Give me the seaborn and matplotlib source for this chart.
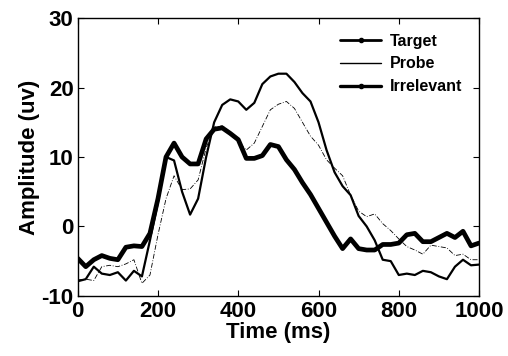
import numpy as np
import pandas as pd
import seaborn as sns
import matplotlib
matplotlib.use('Agg')
import matplotlib.pyplot as plt
from matplotlib.lines import Line2D

# время, мс (шаг 20 мс)
time_ms = list(range(0, 1001, 20))

target = [-7.9, -7.6, -5.8, -6.8, -7.0, -6.6, -7.8, -6.4, -7.2, -2.0,
          3.5, 10.0, 9.5, 5.0, 1.7, 4.0, 10.0, 15.0, 17.5, 18.3,
          18.0, 16.8, 17.8, 20.5, 21.6, 22.0, 22.0, 20.8, 19.2, 18.0,
          15.0, 11.0, 7.8, 5.8, 4.5, 1.5, 0.0, -2.0, -4.8, -5.0,
          -7.0, -6.8, -7.0, -6.4, -6.6, -7.2, -7.6, -5.8, -4.8, -5.6, -5.5]

probe = [-7.7, -7.6, -7.8, -5.8, -5.6, -5.8, -5.4, -4.8, -8.2, -7.0,
         -1.2, 4.0, 7.3, 5.3, 5.4, 6.7, 11.3, 14.3, 14.5, 13.6,
         12.2, 11.0, 12.0, 14.4, 16.8, 17.6, 18.0, 17.0, 15.0, 13.0,
         11.7, 9.6, 8.4, 7.3, 4.5, 2.2, 1.4, 1.8, 0.4, -0.6,
         -1.8, -2.9, -3.4, -4.0, -2.7, -2.9, -3.1, -4.2, -4.0, -4.8, -4.8]

irrelevant = [-4.6, -5.8, -4.8, -4.2, -4.6, -4.8, -3.0, -2.8, -2.9, -1.0,
              4.0, 10.0, 12.0, 10.0, 9.0, 9.0, 12.6, 14.0, 14.2, 13.4,
              12.5, 9.8, 9.8, 10.2, 11.8, 11.5, 9.6, 8.2, 6.3, 4.6,
              2.6, 0.6, -1.4, -3.2, -1.8, -3.2, -3.4, -3.4, -2.6, -2.6,
              -2.4, -1.2, -1.0, -2.2, -2.2, -1.6, -1.0, -1.6, -0.7, -2.8, -2.4]

df = pd.DataFrame({'time': time_ms, 'Target': target,
                   'Probe': probe, 'Irrelevant': irrelevant})

sns.set_style('ticks')
plt.rcParams['font.family'] = ['Liberation Sans', 'DejaVu Sans']
plt.rcParams['font.weight'] = 'bold'
plt.rcParams['text.color'] = 'black'
plt.rcParams['axes.labelcolor'] = 'black'
plt.rcParams['xtick.color'] = 'black'
plt.rcParams['ytick.color'] = 'black'
plt.rcParams['axes.unicode_minus'] = False

fig = plt.figure(figsize=(5.08, 3.56), dpi=100)
ax = fig.add_axes([0.153, 0.169, 0.790, 0.780])

sns.lineplot(data=df, x='time', y='Probe', ax=ax, color='black',
             linewidth=0.6, dashes=False, linestyle=(0, (6, 2, 1, 2)))
sns.lineplot(data=df, x='time', y='Target', ax=ax, color='black', linewidth=1.6)
sns.lineplot(data=df, x='time', y='Irrelevant', ax=ax, color='black', linewidth=3.4)

ax.set_xlim(0, 1000)
ax.set_ylim(-10, 30)
ax.set_xticks([0, 200, 400, 600, 800, 1000])
ax.set_yticks([-10, 0, 10, 20, 30])
ax.tick_params(direction='in', length=4, width=0.8, top=True, right=True,
               labelsize=16, colors='black')
ax.tick_params(axis='x', pad=4)
ax.tick_params(axis='y', pad=3)
for lbl in ax.get_xticklabels() + ax.get_yticklabels():
    lbl.set_fontweight('bold')
for s in ax.spines.values():
    s.set_visible(True)
    s.set_linewidth(1.0)
    s.set_color('black')

ax.set_xlabel('Time (ms)', fontsize=16, fontweight='bold', labelpad=0, color='black')
ax.set_ylabel('Amplitude (uv)', fontsize=16, fontweight='bold', labelpad=1, color='black')

handles = [
    Line2D([], [], color='black', linewidth=2.0, marker='o', markersize=3),
    Line2D([], [], color='black', linewidth=1.0),
    Line2D([], [], color='black', linewidth=2.4, marker='o', markersize=3),
]
ax.legend(handles, ['Target', 'Probe', 'Irrelevant'], loc='upper right',
          frameon=False, prop={'size': 11.5, 'weight': 'bold'},
          handlelength=2.6, handletextpad=0.5, labelspacing=0.5,
          borderaxespad=0.3, bbox_to_anchor=(0.985, 0.985))

fig.savefig('out.png', dpi=100, facecolor='white')
